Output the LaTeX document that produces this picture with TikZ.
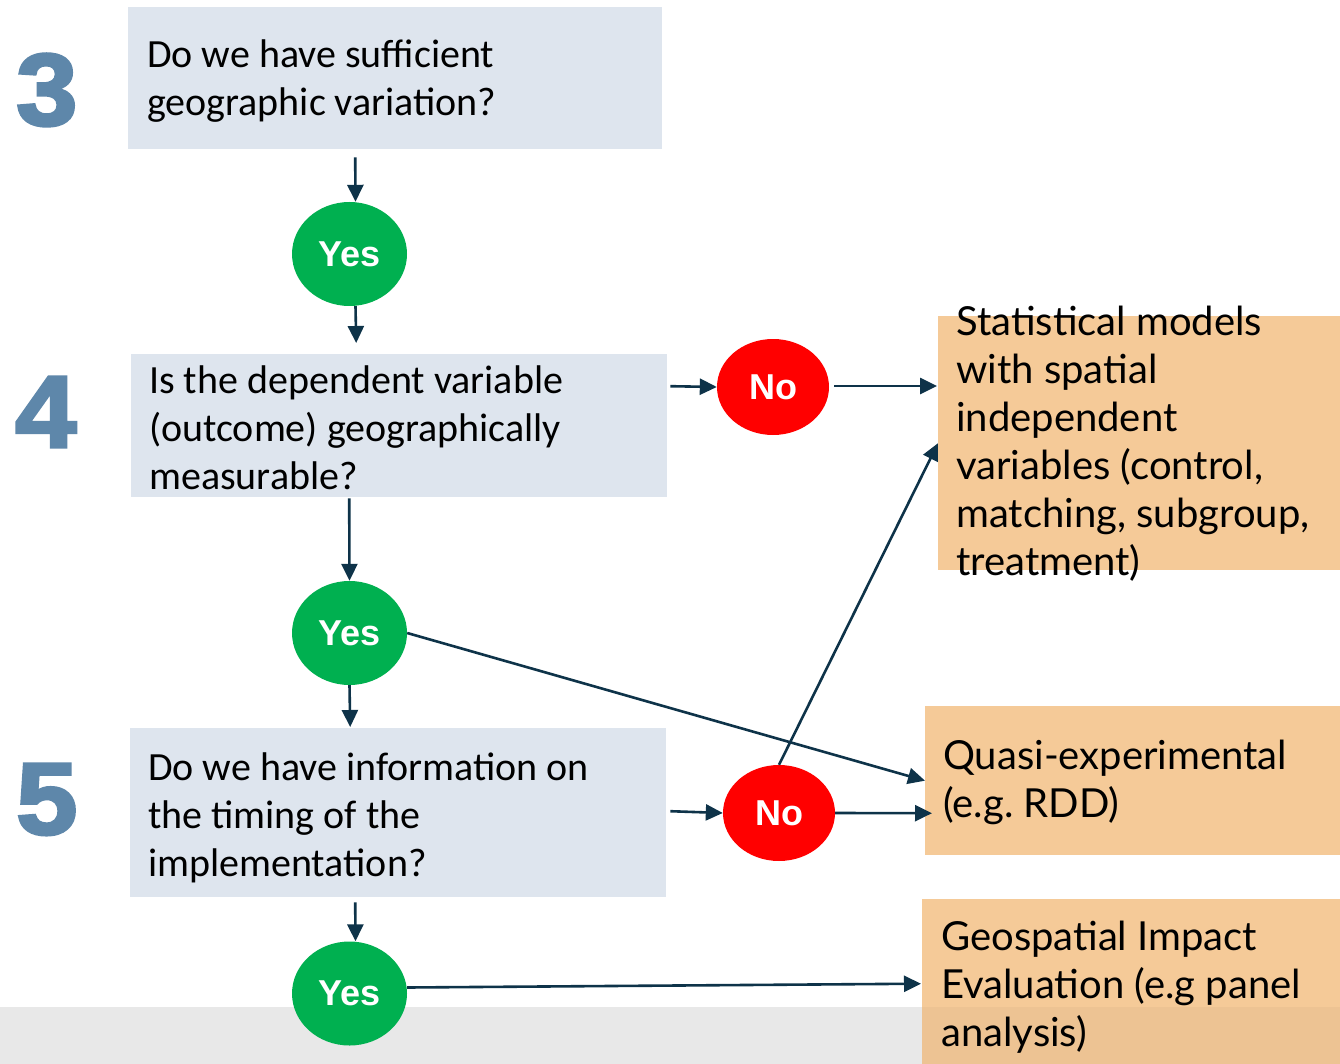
\documentclass[tikz,border=0pt]{standalone}
\usepackage{fontspec}
\usetikzlibrary{shapes.geometric,arrows.meta,calc}
\setmainfont{Carlito}
\newfontfamily\aptos{Lato}
\newfontfamily\arialb{Liberation Sans}
\newfontfamily\numfont[FakeBold=3,FakeStretch=1.08]{Liberation Sans Bold}
\definecolor{boxblue}{HTML}{DEE5EE}
\definecolor{ora}{HTML}{F5CA98}
\definecolor{numc}{HTML}{5E87AA}
\definecolor{arrc}{HTML}{0E3349}
\definecolor{yesg}{HTML}{00B050}
\definecolor{nor}{HTML}{FF0000}
\definecolor{bandc}{HTML}{E8E8E8}
\frenchspacing
\newcommand\mylines[1]{\begin{tabular}[t]{@{}l@{}}#1\end{tabular}}
\tikzset{
  conn/.style={draw=arrc, line width=2.6pt, -{Triangle[length=17pt,width=16pt]}},
  qbox/.style={fill=boxblue, inner sep=0, anchor=north west},
  rbox/.style={fill=ora, inner sep=0, anchor=north west},
  yesn/.style={ellipse, fill=yesg, text=white, font=\arialb\bfseries\fontsize{36}{40}\selectfont, minimum width=115pt, minimum height=104pt, inner sep=0},
  non/.style={ellipse, fill=nor, text=white, font=\arialb\bfseries\fontsize{36}{40}\selectfont, minimum width=112pt, minimum height=96pt, inner sep=0},
  ltxt/.style={anchor=base west, inner sep=0, font=\fontsize{40}{48}\selectfont},
  rtxt/.style={anchor=base west, inner sep=0, font=\aptos\fontsize{40}{48}\selectfont},
  num/.style={anchor=base west, inner sep=0, text=numc, font=\numfont\fontsize{102}{102}\selectfont}
}
\begin{document}
\begin{tikzpicture}[x=1pt,y=-1pt]
\useasboundingbox (0,0) rectangle (1340,1064);
\fill[white] (0,0) rectangle (1340,1064);
\fill[bandc] (0,1007) rectangle (1340,1064);

% question boxes
\node[qbox, minimum width=534pt, minimum height=142pt] (b1) at (128,7) {};
\node[qbox, minimum width=536pt, minimum height=143pt] (b2) at (131,354) {};
\node[qbox, minimum width=536pt, minimum height=169pt] (b3) at (130,728) {};
\node[ltxt] (t1) at (147,68) {\mylines{Do we have sufficient\\geographic variation?}};
\node[ltxt] (t2) at (149,393) {\mylines{Is the dependent variable\\(outcome) geographically\\measurable?}};
\node[ltxt] (t3) at (148,780) {\mylines{Do we have information on\\the timing of the\\implementation?}};

% numbers
\node[num] (n3) at (16,125) {3};
\node[num] (n4) at (15,447) {4};
\node[num] (n5) at (16,834) {5};

% result boxes
\node[rbox, minimum width=402pt, minimum height=254pt] (st) at (938,316) {};
\node[rbox, minimum width=415pt, minimum height=149pt] (qu) at (925,706) {};
\node[rbox, minimum width=418pt, minimum height=165pt] (geo) at (922,899) {};
\fill[black, opacity=0.03] (922,1007) rectangle (1340,1064);
\node[rtxt] (ts) at (956,335) {\mylines{Statistical models\\with spatial\\independent\\variables (control,\\matching, subgroup,\\treatment)}};
\node[rtxt] (tq) at (943,769) {\mylines{Quasi-experimental\\(e.g. RDD)}};
\node[rtxt] (tg) at (941,950) {\mylines{Geospatial Impact\\Evaluation (e.g panel\\analysis)}};

% decision ellipses
\node[yesn] (y1) at (349.5,254) {Yes};
\node[yesn] (y2) at (349.5,633) {Yes};
\node[yesn] (y3) at (349.5,993.5) {Yes};
\node[non] (no1) at (773,387) {No};
\node[non] (no2) at (779,813) {No};

% connectors
\draw[conn] ($(b1.south)+(-40,8)$) -- ($(y1.north)+(6,0)$);
\draw[conn] ($(y1.south)+(6,0)$) -- ($(b2.north)+(-43,-11)$);
\draw[conn] ($(b2.east)+(3,-39.5)$) -- (no1.west);
\draw[conn] ($(no1.east)+(5,-1)$) -- ($(st.north west)+(-1,70)$);
\draw[conn] ($(b2.south)+(-50,1)$) -- (y2.north);
\draw[conn] (y2.south) -- ($(b3.north)+(-48,-1)$);
\draw[conn] (y2.east) -- (qu.west);
\draw[conn] ($(b3.east)+(4,-1.5)$) -- (no2.west);
\draw[conn] (no2.east) -- ($(qu.west)+(7,32.5)$);
\draw[conn] (no2.north) -- (st.west);
\draw[conn] ($(b3.south)+(-43,5)$) -- ($(y3.north)+(6,0)$);
\draw[conn] ($(y3.east)+(0,-6)$) -- ($(geo.west)+(-1,2)$);
\end{tikzpicture}
\end{document}
